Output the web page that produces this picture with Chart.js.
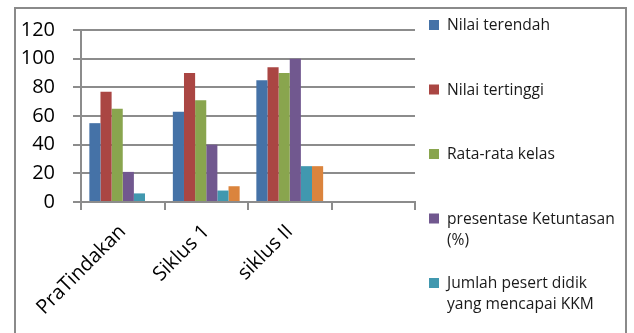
<!DOCTYPE html>
<html>
<head>
<meta charset="utf-8">
<script src="https://cdn.jsdelivr.net/npm/chart.js@4.4.1/dist/chart.umd.min.js"></script>
<style>
  html, body { margin: 0; padding: 0; background: #fff; overflow: hidden; }
  #wrap { position: relative; width: 634px; height: 333px; }
</style>
</head>
<body>
<div id="wrap"><canvas id="chart" width="634" height="333"></canvas></div>
<script>
// Categories on the x axis (last slot is left empty)
const categories = ['PraTindakan', 'Siklus 1', 'siklus II', ''];

// Series names, split into the lines shown in the legend
const seriesNames = [
  ['Nilai terendah'],
  ['Nilai tertinggi'],
  ['Rata-rata kelas'],
  ['presentase Ketuntasan', '(%)'],
  ['Jumlah pesert didik', 'yang mencapai KKM'],
  ['Jumlah pesert didik', 'yang belum mencapai KKM']
];
const nilaiTerendah   = [55, 63, 85, null];
const nilaiTertinggi  = [77, 90, 94, null];
const rataRataKelas   = [65, 71, 90, null];
const ketuntasan      = [21, 40, 100, null];
const jumlahKKM       = [6, 8, 25, null];
const jumlahBelumKKM  = [0, 11, 25, null];

const seriesColors = ['#4572A7', '#AA4643', '#89A54E', '#71588F', '#4198AF', '#DB843D'];

// Y axis tick values
const yTicks = [0, 20, 40, 60, 80, 100, 120];

const seriesValues = [nilaiTerendah, nilaiTertinggi, rataRataKelas, ketuntasan, jumlahKKM, jumlahBelumKKM];

const FONT = '"Open Sans", "DejaVu Sans", sans-serif';
const GRID = '#8c8c8c';

// Outer frame around the whole chart
const framePlugin = {
  id: 'frame',
  beforeDraw(chart) {
    const ctx = chart.ctx;
    ctx.save();
    ctx.strokeStyle = '#8a8a8a';
    ctx.lineWidth = 2;
    ctx.strokeRect(15, 8, 611, 400);
    ctx.restore();
  }
};

// Legend on the right: colour square + text lines, evenly spaced entries
const sideLegend = {
  id: 'sideLegend',
  afterDraw(chart) {
    const ctx = chart.ctx;
    ctx.save();
    ctx.font = '15.6px ' + FONT;
    ctx.textBaseline = 'middle';
    const x0 = 429, tx = 447, step = 64.5, top = 26, lh = 21;
    chart.data.datasets.forEach((ds, i) => {
      const cy = top + i * step;
      ctx.fillStyle = ds.backgroundColor;
      ctx.fillRect(x0, cy - 6, 10, 10);
      ctx.fillStyle = '#1a1a1a';
      seriesNames[i].forEach((ln, k) => ctx.fillText(ln, tx, cy + k * lh));
    });
    ctx.restore();
  }
};

new Chart(document.getElementById('chart'), {
  type: 'bar',
  data: {
    labels: categories,
    datasets: seriesNames.map((name, i) => ({
      label: name.join(' '),
      data: seriesValues[i],
      backgroundColor: seriesColors[i],
      borderWidth: 0,
      categoryPercentage: 0.8,
      barPercentage: 1.0
    }))
  },
  options: {
    responsive: false,
    animation: false,
    layout: { padding: { left: 16, top: 25, right: 219, bottom: 0 } },
    plugins: {
      legend: { display: false },
      tooltip: { enabled: false }
    },
    scales: {
      x: {
        afterFit(scale) { scale.height = 131; },
        grid: {
          display: true,
          drawOnChartArea: false,
          drawTicks: true,
          tickLength: 8,
          color: GRID,
          lineWidth: 2,
          offset: true
        },
        border: { color: GRID, width: 2 },
        ticks: {
          color: '#000',
          font: { family: FONT, size: 20 },
          maxRotation: 45,
          minRotation: 45,
          padding: 10
        }
      },
      y: {
        min: 0,
        max: 120,
        afterFit(scale) { scale.width = 65; },
        afterBuildTicks(scale) { scale.ticks = yTicks.map(v => ({ value: v })); },
        grid: {
          color: GRID,
          lineWidth: 2,
          tickLength: 8
        },
        border: { color: GRID, width: 2 },
        ticks: {
          color: '#000',
          font: { family: FONT, size: 20 },
          padding: 18
        }
      }
    }
  },
  plugins: [framePlugin, sideLegend]
});
</script>
</body>
</html>
